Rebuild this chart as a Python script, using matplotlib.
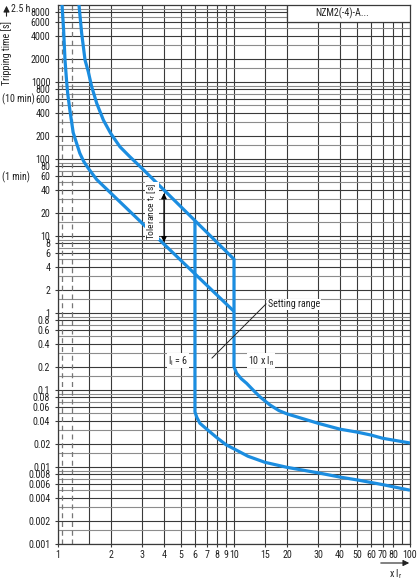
import matplotlib
matplotlib.use('Agg')
import matplotlib.pyplot as plt
from matplotlib.patches import Rectangle, FancyArrowPatch
from matplotlib import font_manager
from matplotlib.ticker import FixedLocator, NullFormatter

# ---- pick a condensed/narrow font if one is installed ----
def _pick_font():
    prefs = ['Liberation Sans Narrow', 'Roboto Condensed', 'Open Sans Condensed', 'Noto Sans',
             'DejaVu Sans', 'Open Sans', 'Roboto']
    cands = []
    for f in font_manager.fontManager.ttflist:
        tag = (f.fname + ' ' + f.name).lower()
        if ('narrow' in tag or 'condensed' in tag) and f.style == 'normal' \
                and 'semi' not in tag.replace(f.name.lower(), '') and 'extra' not in tag \
                and f.weight in (400, 'normal', 'regular', 'book'):
            cands.append(f)
    for p in prefs:
        for f in cands:
            if f.name == p:
                return f
    return cands[0] if cands else None

_f = _pick_font()
if _f is not None:
    plt.rcParams['font.family'] = [_f.name, 'DejaVu Sans']
    plt.rcParams['font.stretch'] = _f.stretch
    FS = 7.2
else:
    plt.rcParams['font.family'] = ['DejaVu Sans']
    FS = 6.2

# ---------------- data ----------------
curve_a_x = [1.054, 1.075, 1.096, 1.12, 1.135, 1.17, 1.22, 1.27, 1.33, 1.40, 1.486, 1.66, 10.0]
curve_a_t = [10000, 5000, 1930, 1000, 713, 420, 220, 165, 119, 93, 75.7, 54, 1.05]

curve_b_x = [1.316, 1.363, 1.424, 1.486, 1.554, 1.66, 1.81, 1.99, 2.25, 2.56, 3.0, 10.0,
             10.0, 10.35, 11.0, 11.8, 13.0, 14.0, 16.0, 18.0, 20.0, 30.0, 40.0, 50.0, 60.0, 70.0, 100.0]
curve_b_t = [10000, 4285, 1932, 1362, 869, 528, 321, 216, 144, 107, 75.7, 5.0,
             0.2, 0.165, 0.14, 0.122, 0.097, 0.082, 0.064, 0.054, 0.049, 0.037, 0.031, 0.0284, 0.026, 0.0236, 0.0205]

curve_d_x = [6.0, 6.0, 6.15, 6.4, 7.0, 8.0, 9.0, 10.0, 12.0, 15.0, 20.0, 30.0, 40.0, 50.0, 70.0, 100.0]
curve_d_t = [15.8, 0.052, 0.044, 0.037, 0.031, 0.024, 0.0195, 0.0172, 0.0138, 0.0115, 0.0099, 0.0084,
             0.0074, 0.0068, 0.0059, 0.0050]

dashed_x = [1.05, 1.2]

y_major = [0.001, 0.002, 0.004, 0.006, 0.008, 0.01, 0.02, 0.04, 0.06, 0.08, 0.1, 0.2, 0.4, 0.6, 0.8,
           1, 2, 4, 6, 8, 10, 20, 40, 60, 80, 100, 200, 400, 600, 800, 1000, 2000, 4000, 6000, 8000]
y_labels = ['0.001', '0.002', '0.004', '0.006', '0.008', '0.01', '0.02', '0.04', '0.06', '0.08', '0.1',
            '0.2', '0.4', '0.6', '0.8', '1', '2', '4', '6', '8', '10', '20', '40', '60', '80', '100',
            '200', '400', '600', '800', '1000', '2000', '4000', '6000', '8000']
y_minor = [m * 10.0 ** e for e in range(-3, 4) for m in (1.5, 3, 5, 7, 9)]

x_major = [1, 2, 3, 4, 5, 6, 7, 8, 9, 10, 15, 20, 30, 40, 50, 60, 70, 80, 100]
x_labels = ['1', '2', '3', '4', '5', '6', '7', '8', '9', '10', '15', '20', '30', '40', '50', '60',
            '70', '80', '100']
x_minor = [1.5, 90]

BLUE = '#1b8de0'
DARK = '#3a3a3a'
GRAY = '#8c8c8c'
TXT = '#222222'

W, H = 419, 580
fig = plt.figure(figsize=(W / 100, H / 100), dpi=100)
L, R, B, T = 58, 410, 544, 5
ax = fig.add_axes([L / W, 1 - B / H, (R - L) / W, (B - T) / H])
ax.set_xscale('log')
ax.set_yscale('log')
ax.set_xlim(1, 100)
ax.set_ylim(0.001, 10000)

for v in x_major + x_minor:
    ax.axvline(v, color=DARK, lw=0.8, zorder=1)
for v in y_major:
    ax.axhline(v, color=DARK, lw=0.8, zorder=1)
for v in y_minor:
    if 0.001 < v < 10000:
        ax.axhline(v, color=GRAY, lw=0.8, zorder=1)
for v in dashed_x:
    ax.axvline(v, color='#777777', lw=0.9, ls=(0, (4, 3)), zorder=1)

ax.xaxis.set_major_locator(FixedLocator(x_major))
ax.set_xticklabels(x_labels)
ax.xaxis.set_minor_locator(FixedLocator(x_minor))
ax.xaxis.set_minor_formatter(NullFormatter())
ax.yaxis.set_major_locator(FixedLocator(y_major))
ax.set_yticklabels(y_labels)
ax.yaxis.set_minor_locator(FixedLocator([]))
ax.tick_params(axis='both', which='major', length=2.5, width=0.8, color=DARK, labelsize=FS,
               labelcolor=TXT)
ax.tick_params(axis='x', which='major', pad=1.5)
ax.tick_params(axis='y', which='major', pad=3)
ax.tick_params(which='minor', length=0)
for s in ax.spines.values():
    s.set_color(DARK)
    s.set_linewidth(0.9)

kw = dict(color=BLUE, lw=2.3, zorder=4, solid_capstyle='butt', solid_joinstyle='round')
ax.plot(curve_a_x, curve_a_t, **kw)
ax.plot(curve_b_x, curve_b_t, **kw)
ax.plot(curve_d_x, curve_d_t, **kw)

ax.add_patch(Rectangle((20, 6000), 80, 4000, facecolor='white', edgecolor=DARK, lw=0.9, zorder=3))
ax.text(41.1, 7750, 'NZM2(-4)-A...', ha='center', va='center', fontsize=FS, color=TXT, zorder=5)

ax.annotate('', xy=(4, 36), xytext=(4, 8.3),
            arrowprops=dict(arrowstyle='<|-|>', color='black', lw=0.8, mutation_scale=8,
                            shrinkA=0, shrinkB=0), zorder=5)
ax.text(3.42, 21, r'Tolerance t$_\mathregular{r}$ [s]', rotation=90, ha='center', va='center',
        fontsize=FS - 0.4, color=TXT, zorder=5,
        bbox=dict(facecolor='white', edgecolor='none', pad=0.5))

box = dict(facecolor='white', edgecolor='none', pad=0.5)
ax.plot([7.5, 15.2], [0.26, 1.31], color=TXT, lw=0.7, zorder=5)
ax.text(15.6, 1.3, 'Setting range', ha='left', va='center', fontsize=FS, color=TXT, zorder=5, bbox=box)
ax.text(5.48, 0.24, r'$\mathregular{I_i}$ = 6', ha='right', va='center', fontsize=FS,
        color=TXT, zorder=5, bbox=box)
ax.text(12.0, 0.24, r'10 x I$_\mathregular{n}$', ha='left', va='center', fontsize=FS,
        color=TXT, zorder=5, bbox=box)

def fx(px):
    return px / W

def fy(py):
    return 1 - py / H

fig.text(fx(7), fy(53), 'Tripping time [s]', rotation=90, ha='center', va='center', fontsize=FS,
         color=TXT)
fig.patches.append(FancyArrowPatch((fx(6.5), fy(19)), (fx(6.5), fy(3)), transform=fig.transFigure,
                                   arrowstyle='-|>', mutation_scale=9, color=TXT, lw=0.8))
fig.text(fx(11), fy(9), '2.5 h', ha='left', va='center', fontsize=FS, color=TXT)
fig.text(fx(2), fy(99), '(10 min)', ha='left', va='center', fontsize=FS, color=TXT)
fig.text(fx(2), fy(177), '(1 min)', ha='left', va='center', fontsize=FS, color=TXT)

fig.patches.append(FancyArrowPatch((fx(378), fy(563)), (fx(412), fy(563)), transform=fig.transFigure,
                                   arrowstyle='-|>', mutation_scale=9, color=TXT, lw=0.8))
fig.text(fx(396), fy(574), r'x I$_\mathregular{r}$', ha='center', va='center', fontsize=FS,
         color=TXT)

fig.savefig('out.png', dpi=100, facecolor='white')
